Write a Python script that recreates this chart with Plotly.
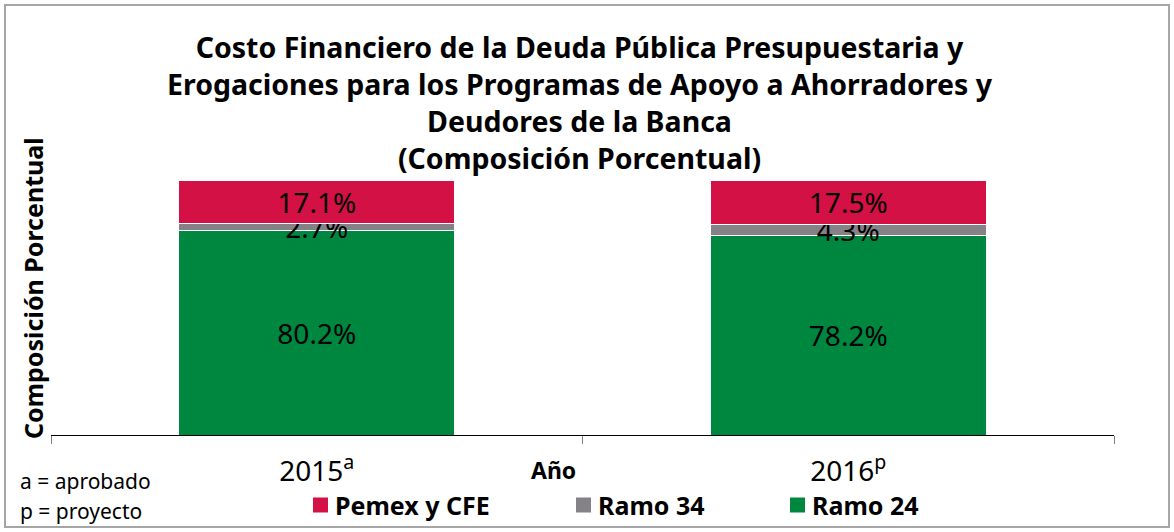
import plotly.graph_objects as go

years = ["2015", "2016"]
year_marks = ["a", "p"]
ramo24 = [80.2, 78.2]
ramo34 = [2.7, 4.3]
pemex = [17.1, 17.5]
series = [
    ("Ramo 24", ramo24, "#00873F"),
    ("Ramo 34", ramo34, "#858287"),
    ("Pemex y CFE", pemex, "#D31145"),
]
legend_order = ["Pemex y CFE", "Ramo 34", "Ramo 24"]
title_lines = [
    "Costo Financiero de la Deuda Pública Presupuestaria y",
    "Erogaciones para los Programas de Apoyo a Ahorradores y",
    "Deudores de la Banca",
    "(Composición Porcentual)",
]

FONT = "Noto Sans"
W, H = 1174, 532
L, R, T, B = 51, 60, 180, 97
PW, PH = W - L - R, H - T - B


def px(x):
    return (x - L) / PW


def py(y):
    return (H - B - y) / PH


fig = go.Figure()
for name, vals, color in series:
    fig.add_trace(go.Bar(
        x=years, y=vals, name=name,
        marker=dict(color=color, line=dict(color="#FFFFFF", width=1)),
        text=[f"{v:.1f}%" for v in vals],
        textposition="inside", insidetextanchor="middle", textangle=0,
        textfont=dict(family=FONT, size=28, color="#000000"),
        cliponaxis=False, showlegend=False,
    ))

fig.update_layout(
    barmode="stack",
    bargap=0.48,
    width=W, height=H,
    margin=dict(l=L, r=R, t=T, b=B, autoexpand=False),
    paper_bgcolor="white", plot_bgcolor="white",
    uniformtext=dict(minsize=28, mode="show"),
    showlegend=False,
    font=dict(family=FONT),
)

fig.update_xaxes(
    tickvals=years,
    ticktext=[f"{y}<sup>{m}</sup>" for y, m in zip(years, year_marks)],
    tickfont=dict(family=FONT, size=28, color="#000000"),
    showline=True, linecolor="#000000", linewidth=1,
    ticks="outside", tickson="boundaries", ticklen=8, tickcolor="#808080",
    showgrid=False, ticklabelstandoff=11, automargin=False,
)
fig.update_yaxes(range=[0, 100], visible=False, automargin=False)

fig.add_annotation(
    text="<br>".join(f"<b>{line}</b>" for line in title_lines),
    xref="paper", yref="paper", x=px(580), y=py(103),
    xanchor="center", yanchor="middle", showarrow=False, align="center",
    font=dict(family=FONT, size=28.5, color="#000000"),
)

fig.add_annotation(
    text="<b>Composición Porcentual</b>", textangle=-90,
    xref="paper", yref="paper", x=px(33), y=py(288),
    xanchor="center", yanchor="middle", showarrow=False,
    font=dict(family=FONT, size=25, color="#000000"),
)
fig.add_annotation(
    text="<b>Año</b>", xref="paper", yref="paper",
    x=px(553), y=py(470),
    xanchor="center", yanchor="middle", showarrow=False,
    font=dict(family=FONT, size=23, color="#000000"),
)
for i, note in enumerate(["a = aprobado", "p = proyecto"]):
    fig.add_annotation(
        text=note, xref="paper", yref="paper",
        x=px(18), y=py(481 + 30 * i),
        xanchor="left", yanchor="middle", showarrow=False,
        font=dict(family=FONT, size=21, color="#000000"),
    )

# legend (manual, to match reference spacing)
colors = {name: color for name, _, color in series}
leg_x = [313, 576, 790]
leg_y = 505
for name, x0 in zip(legend_order, leg_x):
    fig.add_shape(type="rect", xref="paper", yref="paper",
                  x0=px(x0), x1=px(x0 + 15), y0=py(leg_y + 7.5), y1=py(leg_y - 7.5),
                  fillcolor=colors[name], line=dict(width=0))
    fig.add_annotation(
        text=f"<b>{name}</b>", xref="paper", yref="paper",
        x=px(x0 + 20), y=py(leg_y),
        xanchor="left", yanchor="middle", showarrow=False,
        font=dict(family=FONT, size=25, color="#000000"),
    )

fig.add_shape(type="rect", xref="paper", yref="paper",
              x0=px(5), x1=px(1169), y0=py(527), y1=py(5),
              line=dict(color="#A6A6A6", width=2), layer="below")

fig.write_html(
    "out.html",
    config={"displayModeBar": False},
    post_script="document.body.style.margin='0';document.body.style.overflow='hidden';",
)
